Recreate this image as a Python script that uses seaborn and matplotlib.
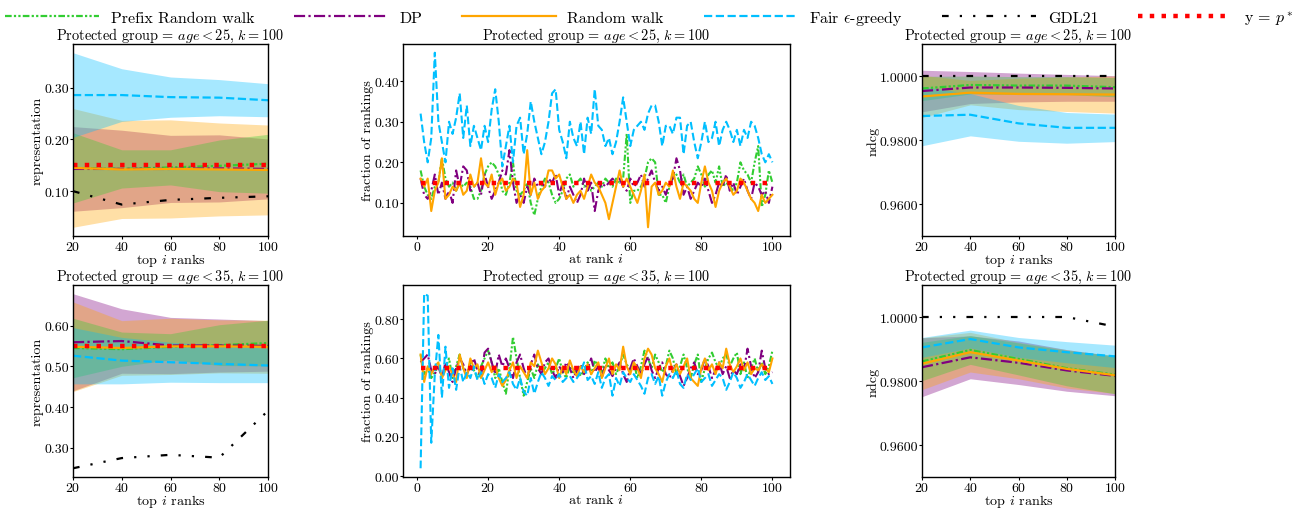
import numpy as np
import matplotlib
matplotlib.use("Agg")
import matplotlib.pyplot as plt
import seaborn as sns
from matplotlib.ticker import MultipleLocator, FormatStrFormatter

plt.rcParams["font.family"] = ["cmr10", "DejaVu Serif"]
plt.rcParams["mathtext.fontset"] = "cm"
plt.rcParams["axes.formatter.use_mathtext"] = True
plt.rcParams["axes.unicode_minus"] = False

# top i ranks used in the prefix plots
top_k = [20, 40, 60, 80, 100]
ranks = list(range(1, 101))

methods = ["Prefix Random walk", "DP", "Random walk", "Fair $\\epsilon$-greedy", "GDL21"]
colors = ["limegreen", "purple", "orange", "deepskyblue", "black"]
styles = [(0, (3, 1, 1, 1, 1, 1)), (0, (5, 1.5, 1, 1.5)), "-", "--", (0, (3, 5, 1, 5, 1, 5))]
fill_order = [1, 2, 0, 3]

p_star_25 = 0.15
p_star_35 = 0.55

# ---- representation, age < 25 (mean, std per method)
rep25_mean = [
    [0.145, 0.143, 0.146, 0.149, 0.153],
    [0.143, 0.143, 0.143, 0.144, 0.143],
    [0.145, 0.142, 0.143, 0.142, 0.141],
    [0.286, 0.286, 0.282, 0.281, 0.276],
    [0.100, 0.074, 0.083, 0.087, 0.090],
]
rep25_std = [
    [0.068, 0.037, 0.034, 0.050, 0.057],
    [0.082, 0.075, 0.065, 0.065, 0.058],
    [0.115, 0.095, 0.095, 0.090, 0.087],
    [0.082, 0.051, 0.039, 0.035, 0.032],
    None,
]

# ---- representation, age < 35
rep35_mean = [
    [0.545, 0.542, 0.548, 0.552, 0.557],
    [0.559, 0.562, 0.551, 0.551, 0.550],
    [0.548, 0.545, 0.549, 0.549, 0.548],
    [0.526, 0.514, 0.510, 0.506, 0.502],
    [0.250, 0.275, 0.283, 0.276, 0.391],
]
rep35_std = [
    [0.073, 0.042, 0.032, 0.050, 0.056],
    [0.119, 0.079, 0.069, 0.065, 0.062],
    [0.110, 0.067, 0.069, 0.065, 0.065],
    [0.069, 0.057, 0.049, 0.046, 0.042],
    None,
]

# ---- ndcg, age < 25
ndcg25_mean = [
    [0.9961, 0.9972, 0.9970, 0.9970, 0.9965],
    [0.9953, 0.9964, 0.9964, 0.9963, 0.9961],
    [0.9936, 0.9948, 0.9944, 0.9943, 0.9942],
    [0.9875, 0.9879, 0.9852, 0.9838, 0.9838],
    [1.0000, 1.0000, 1.0000, 1.0000, 1.0000],
]
ndcg25_std = [
    [0.0038, 0.0028, 0.0028, 0.0028, 0.0030],
    [0.0065, 0.0050, 0.0045, 0.0042, 0.0040],
    [0.0066, 0.0038, 0.0049, 0.0054, 0.0058],
    [0.0093, 0.0066, 0.0056, 0.0048, 0.0043],
    None,
]

# ---- ndcg, age < 35
ndcg35_mean = [
    [0.9861, 0.9897, 0.9869, 0.9840, 0.9820],
    [0.9843, 0.9874, 0.9857, 0.9833, 0.9816],
    [0.9854, 0.9890, 0.9864, 0.9838, 0.9818],
    [0.9905, 0.9931, 0.9905, 0.9890, 0.9877],
    [1.0000, 1.0000, 1.0000, 1.0000, 0.9970],
]
ndcg35_std = [
    [0.0060, 0.0045, 0.0050, 0.0055, 0.0060],
    [0.0092, 0.0067, 0.0068, 0.0065, 0.0062],
    [0.0081, 0.0062, 0.0057, 0.0060, 0.0057],
    [0.0031, 0.0028, 0.0031, 0.0033, 0.0035],
    None,
]

# ---- fraction of rankings at rank i, age < 25
frac25_prefix = [
    0.18, 0.14, 0.12, 0.11, 0.14, 0.15, 0.21, 0.16, 0.14, 0.15,
    0.13, 0.15, 0.14, 0.15, 0.14, 0.11, 0.11, 0.13, 0.17, 0.19,
    0.20, 0.19, 0.17, 0.13, 0.12, 0.15, 0.20, 0.13, 0.12, 0.13,
    0.15, 0.10, 0.07, 0.11, 0.14, 0.16, 0.15, 0.12, 0.10, 0.11,
    0.13, 0.16, 0.17, 0.14, 0.15, 0.16, 0.14, 0.15, 0.13, 0.14,
    0.15, 0.14, 0.16, 0.15, 0.14, 0.16, 0.15, 0.16, 0.27, 0.10,
    0.13, 0.13, 0.14, 0.16, 0.20, 0.21, 0.20, 0.12, 0.12, 0.10,
    0.14, 0.16, 0.17, 0.15, 0.17, 0.14, 0.15, 0.16, 0.19, 0.17,
    0.14, 0.17, 0.18, 0.15, 0.19, 0.14, 0.15, 0.14, 0.13, 0.15,
    0.20, 0.18, 0.17, 0.15, 0.20, 0.24, 0.09, 0.12, 0.18, 0.15,
]
frac25_dp = [
    0.16, 0.12, 0.11, 0.13, 0.17, 0.12, 0.15, 0.11, 0.13, 0.10,
    0.18, 0.14, 0.19, 0.18, 0.13, 0.14, 0.15, 0.12, 0.17, 0.14,
    0.11, 0.13, 0.15, 0.18, 0.17, 0.23, 0.15, 0.10, 0.12, 0.10,
    0.14, 0.12, 0.16, 0.14, 0.15, 0.14, 0.16, 0.15, 0.17, 0.12,
    0.15, 0.11, 0.14, 0.12, 0.10, 0.12, 0.16, 0.13, 0.15, 0.08,
    0.13, 0.15, 0.14, 0.15, 0.16, 0.15, 0.16, 0.14, 0.13, 0.16,
    0.14, 0.15, 0.17, 0.14, 0.16, 0.18, 0.15, 0.13, 0.14, 0.12,
    0.15, 0.16, 0.21, 0.18, 0.12, 0.14, 0.11, 0.13, 0.15, 0.14,
    0.16, 0.13, 0.10, 0.12, 0.15, 0.14, 0.17, 0.13, 0.15, 0.12,
    0.14, 0.16, 0.13, 0.11, 0.15, 0.14, 0.12, 0.13, 0.10, 0.14,
]
frac25_rw = [
    0.16, 0.14, 0.16, 0.08, 0.13, 0.15, 0.21, 0.11, 0.12, 0.14,
    0.13, 0.15, 0.12, 0.13, 0.17, 0.14, 0.15, 0.21, 0.15, 0.14,
    0.17, 0.12, 0.15, 0.16, 0.13, 0.14, 0.16, 0.15, 0.09, 0.12,
    0.23, 0.12, 0.15, 0.11, 0.13, 0.14, 0.18, 0.18, 0.16, 0.17,
    0.14, 0.11, 0.12, 0.10, 0.12, 0.13, 0.11, 0.14, 0.17, 0.15,
    0.14, 0.12, 0.10, 0.06, 0.10, 0.14, 0.18, 0.14, 0.16, 0.14,
    0.12, 0.10, 0.13, 0.17, 0.04, 0.14, 0.15, 0.12, 0.13, 0.15,
    0.14, 0.18, 0.14, 0.11, 0.15, 0.14, 0.13, 0.11, 0.10, 0.15,
    0.19, 0.15, 0.13, 0.09, 0.13, 0.15, 0.16, 0.14, 0.12, 0.13,
    0.16, 0.15, 0.13, 0.11, 0.10, 0.08, 0.12, 0.10, 0.11, 0.12,
]
frac25_fair = [
    0.32, 0.25, 0.20, 0.26, 0.47, 0.30, 0.25, 0.20, 0.30, 0.27,
    0.31, 0.37, 0.26, 0.34, 0.24, 0.29, 0.26, 0.23, 0.29, 0.25,
    0.33, 0.38, 0.30, 0.19, 0.24, 0.29, 0.20, 0.29, 0.31, 0.22,
    0.27, 0.35, 0.30, 0.26, 0.22, 0.25, 0.30, 0.37, 0.38, 0.28,
    0.25, 0.21, 0.30, 0.26, 0.24, 0.30, 0.22, 0.31, 0.27, 0.38,
    0.29, 0.28, 0.24, 0.26, 0.22, 0.25, 0.30, 0.36, 0.30, 0.24,
    0.28, 0.29, 0.30, 0.28, 0.32, 0.34, 0.34, 0.30, 0.24, 0.29,
    0.29, 0.27, 0.31, 0.31, 0.22, 0.29, 0.30, 0.25, 0.21, 0.25,
    0.30, 0.25, 0.26, 0.30, 0.24, 0.28, 0.30, 0.28, 0.25, 0.28,
    0.24, 0.28, 0.26, 0.30, 0.29, 0.26, 0.22, 0.20, 0.22, 0.20,
]

# ---- fraction of rankings at rank i, age < 35
frac35_prefix = [
    0.62, 0.52, 0.55, 0.50, 0.53, 0.56, 0.52, 0.55, 0.60, 0.50,
    0.56, 0.62, 0.55, 0.52, 0.58, 0.54, 0.50, 0.56, 0.60, 0.64,
    0.58, 0.50, 0.55, 0.48, 0.42, 0.55, 0.71, 0.60, 0.50, 0.41,
    0.48, 0.55, 0.50, 0.57, 0.52, 0.55, 0.58, 0.52, 0.55, 0.60,
    0.53, 0.50, 0.56, 0.52, 0.55, 0.51, 0.54, 0.58, 0.52, 0.59,
    0.56, 0.53, 0.60, 0.55, 0.58, 0.52, 0.56, 0.62, 0.57, 0.54,
    0.58, 0.50, 0.56, 0.64, 0.60, 0.55, 0.62, 0.58, 0.53, 0.56,
    0.64, 0.60, 0.52, 0.56, 0.62, 0.55, 0.50, 0.57, 0.62, 0.48,
    0.55, 0.60, 0.63, 0.58, 0.55, 0.60, 0.62, 0.56, 0.60, 0.63,
    0.52, 0.58, 0.50, 0.55, 0.60, 0.53, 0.58, 0.52, 0.56, 0.64,
]
frac35_dp = [
    0.58, 0.60, 0.62, 0.54, 0.52, 0.56, 0.50, 0.58, 0.53, 0.48,
    0.55, 0.60, 0.57, 0.52, 0.56, 0.60, 0.54, 0.51, 0.63, 0.65,
    0.58, 0.52, 0.62, 0.56, 0.60, 0.55, 0.50, 0.58, 0.62, 0.55,
    0.50, 0.57, 0.62, 0.55, 0.52, 0.58, 0.60, 0.54, 0.50, 0.56,
    0.53, 0.58, 0.55, 0.50, 0.54, 0.57, 0.52, 0.55, 0.60, 0.53,
    0.56, 0.50, 0.57, 0.54, 0.51, 0.55, 0.58, 0.52, 0.48, 0.55,
    0.60, 0.56, 0.52, 0.57, 0.61, 0.54, 0.50, 0.55, 0.58, 0.52,
    0.50, 0.54, 0.57, 0.51, 0.46, 0.50, 0.55, 0.58, 0.52, 0.54,
    0.60, 0.56, 0.50, 0.54, 0.58, 0.52, 0.56, 0.50, 0.54, 0.52,
    0.57, 0.54, 0.65, 0.56, 0.50, 0.53, 0.64, 0.55, 0.52, 0.53,
]
frac35_rw = [
    0.62, 0.48, 0.56, 0.52, 0.56, 0.58, 0.50, 0.54, 0.56, 0.52,
    0.48, 0.62, 0.55, 0.50, 0.60, 0.55, 0.57, 0.50, 0.54, 0.58,
    0.53, 0.56, 0.50, 0.46, 0.49, 0.54, 0.58, 0.50, 0.56, 0.53,
    0.50, 0.58, 0.56, 0.64, 0.58, 0.52, 0.55, 0.60, 0.57, 0.50,
    0.56, 0.52, 0.59, 0.54, 0.51, 0.56, 0.53, 0.57, 0.52, 0.55,
    0.58, 0.50, 0.55, 0.60, 0.52, 0.57, 0.54, 0.66, 0.56, 0.52,
    0.58, 0.55, 0.50, 0.60, 0.65, 0.62, 0.55, 0.52, 0.48, 0.56,
    0.60, 0.53, 0.57, 0.52, 0.56, 0.60, 0.50, 0.48, 0.46, 0.55,
    0.60, 0.54, 0.57, 0.52, 0.58, 0.55, 0.65, 0.57, 0.53, 0.56,
    0.60, 0.54, 0.58, 0.52, 0.55, 0.54, 0.57, 0.55, 0.53, 0.60,
]
frac35_fair = [
    0.04, 0.93, 0.92, 0.17, 0.52, 0.72, 0.40, 0.66, 0.45, 0.55,
    0.44, 0.56, 0.48, 0.53, 0.50, 0.56, 0.49, 0.53, 0.47, 0.52,
    0.50, 0.45, 0.52, 0.48, 0.50, 0.53, 0.47, 0.44, 0.50, 0.43,
    0.41, 0.50, 0.42, 0.48, 0.53, 0.50, 0.46, 0.51, 0.49, 0.52,
    0.48, 0.50, 0.51, 0.48, 0.50, 0.53, 0.58, 0.49, 0.51, 0.47,
    0.53, 0.45, 0.50, 0.52, 0.41, 0.50, 0.46, 0.53, 0.50, 0.48,
    0.52, 0.49, 0.46, 0.42, 0.50, 0.52, 0.47, 0.51, 0.41, 0.48,
    0.52, 0.50, 0.54, 0.47, 0.45, 0.52, 0.49, 0.52, 0.55, 0.48,
    0.50, 0.52, 0.46, 0.49, 0.52, 0.50, 0.44, 0.48, 0.53, 0.50,
    0.45, 0.48, 0.52, 0.49, 0.46, 0.50, 0.53, 0.49, 0.51, 0.47,
]

frac25 = [frac25_prefix, frac25_dp, frac25_rw, frac25_fair]
frac35 = [frac35_prefix, frac35_dp, frac35_rw, frac35_fair]

W, H = 1293, 510
fig = plt.figure(figsize=(W / 100, H / 100), dpi=100)

def px_axes(l, t, w, h):
    return fig.add_axes([l / W, 1 - (t + h) / H, w / W, h / H])

rows = [(45, 192), (286, 192)]
axes = []
for top, hh in rows:
    axes.append([px_axes(73, top, 195, hh), px_axes(403, top, 387, hh), px_axes(922, top, 193, hh)])


def prefix_panel(ax, means, stds, p_star=None):
    # shaded bands first, then the mean lines on top
    for i in fill_order:
        if stds[i] is not None:
            m = np.array(means[i])
            s = np.array(stds[i])
            ax.fill_between(top_k, m - s, m + s, color=colors[i], alpha=0.35, linewidth=0)
    for i in range(len(methods)):
        sns.lineplot(x=top_k, y=means[i], ax=ax, color=colors[i], linestyle=styles[i],
                     linewidth=1.6, label=methods[i], legend=False)
    if p_star is not None:
        sns.lineplot(x=top_k, y=[p_star] * len(top_k), ax=ax, color="red",
                     linestyle=":", linewidth=3.2, label="y = $p^*$", legend=False)
    ax.set_xlim(20, 100)
    ax.xaxis.set_major_locator(MultipleLocator(20))
    ax.set_xlabel("top $i$ ranks")


def rank_panel(ax, series, p_star):
    for i in range(4):
        sns.lineplot(x=ranks, y=series[i], ax=ax, color=colors[i], linestyle=styles[i],
                     linewidth=1.5, legend=False)
    sns.lineplot(x=ranks, y=[p_star] * len(ranks), ax=ax, color="red",
                 linestyle=":", linewidth=3.2, legend=False)
    ax.xaxis.set_major_locator(MultipleLocator(20))
    ax.set_xlabel("at rank $i$")
    ax.set_ylabel("fraction of rankings", labelpad=0.5)
    ax.yaxis.set_major_formatter(FormatStrFormatter("%.2f"))


titles = ["Protected group = $age<25$, $k=100$", "Protected group = $age<35$, $k=100$"]

# row 1
prefix_panel(axes[0][0], rep25_mean, rep25_std, p_star_25)
axes[0][0].set_ylabel("representation", labelpad=0.5)
axes[0][0].yaxis.set_major_locator(MultipleLocator(0.1))
axes[0][0].yaxis.set_major_formatter(FormatStrFormatter("%.2f"))
rank_panel(axes[0][1], frac25, p_star_25)
axes[0][1].yaxis.set_major_locator(MultipleLocator(0.1))
prefix_panel(axes[0][2], ndcg25_mean, ndcg25_std)

# row 2
prefix_panel(axes[1][0], rep35_mean, rep35_std, p_star_35)
axes[1][0].set_ylabel("representation", labelpad=0.5)
axes[1][0].yaxis.set_major_locator(MultipleLocator(0.1))
axes[1][0].yaxis.set_major_formatter(FormatStrFormatter("%.2f"))
rank_panel(axes[1][1], frac35, p_star_35)
axes[1][1].yaxis.set_major_locator(MultipleLocator(0.2))
prefix_panel(axes[1][2], ndcg35_mean, ndcg35_std)

for r in range(2):
    ax = axes[r][2]
    ax.set_ylim(0.95, 1.01)
    ax.yaxis.set_major_locator(MultipleLocator(0.02))
    ax.yaxis.set_major_formatter(FormatStrFormatter("%.4f"))
    ax.set_ylabel("ndcg", labelpad=0.5)
    for ax in axes[r]:
        ax.set_title(titles[r], fontsize=10.3, pad=2)
        ax.tick_params(labelsize=10, length=2, pad=0.6)
        ax.xaxis.label.set_size(10.2)
        ax.yaxis.label.set_size(10.2)
        ax.xaxis.set_label_coords(0.5, -0.079)
        for sp in ax.spines.values():
            sp.set_linewidth(1.0)

handles, labels = axes[0][0].get_legend_handles_labels()
fig.legend(handles, labels, loc="lower left", bbox_to_anchor=(0.004, 0.945, 0.996, 0.05),
           mode="expand", ncol=6, frameon=False, fontsize=11.5, handlelength=5.85,
           handletextpad=0.75, borderaxespad=0, borderpad=0)

fig.savefig("out.png", dpi=100)
